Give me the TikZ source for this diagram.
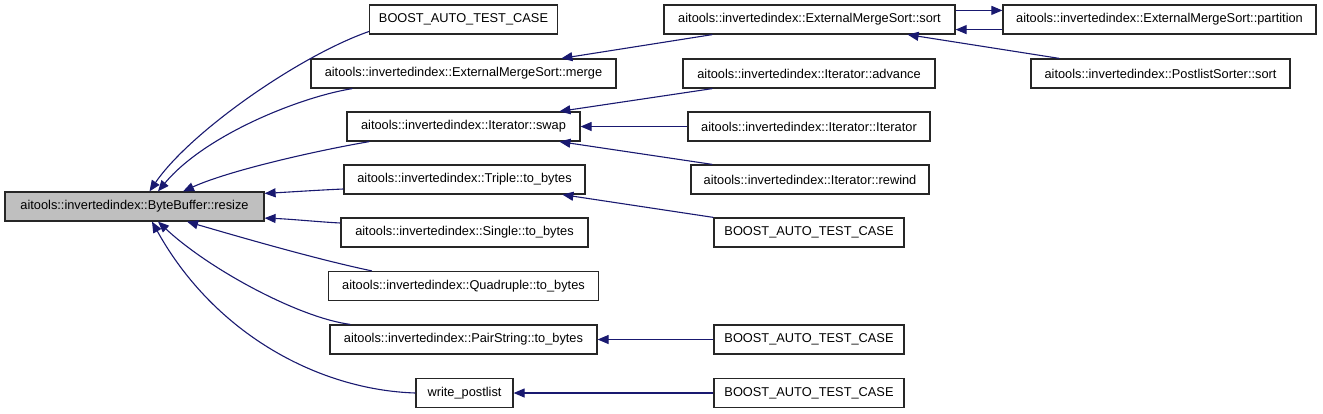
\documentclass[tikz,border=0pt]{standalone}
\usepackage{fontspec}
\setmainfont{Liberation Sans}
\usetikzlibrary{arrows.meta}
\definecolor{edgeblue}{HTML}{191970}
\definecolor{hilite}{HTML}{BFBFBF}
\begin{document}
\begin{tikzpicture}[x=1pt,y=-1pt,
  box/.style={draw=black!85, line width=1.2pt, fill=white, minimum height=29pt, inner sep=0pt,
    font=\fontsize{12.8}{15}\selectfont},
  edge/.style={draw=edgeblue, line width=1.1pt, {Triangle[length=11pt,width=9pt]}-}]
\useasboundingbox (0,0) rectangle (1323,413);
% column 0
\node[box, fill=hilite, minimum width=259pt] (resize) at (134.5,206.5) {aitools::invertedindex::ByteBuffer::resize};
% column 1
\node[box, minimum width=188pt] (b1) at (463.5,19.5) {BOOST\_AUTO\_TEST\_CASE};
\node[box, minimum width=305pt] (merge) at (463.5,73.5) {aitools::invertedindex::ExternalMergeSort::merge};
\node[box, minimum width=233pt] (swap) at (463.5,126.5) {aitools::invertedindex::Iterator::swap};
\node[box, minimum width=241pt] (triple) at (464.5,179.5) {aitools::invertedindex::Triple::to\_bytes};
\node[box, minimum width=247pt] (single) at (464.5,232.5) {aitools::invertedindex::Single::to\_bytes};
\node[box, minimum width=270pt] (quad) at (463.5,286) {aitools::invertedindex::Quadruple::to\_bytes};
\node[box, minimum width=267pt] (pair) at (463.5,339.5) {aitools::invertedindex::PairString::to\_bytes};
\node[box, minimum width=97pt] (wp) at (464.5,393) {write\_postlist};
% column 2
\node[box, minimum width=291pt] (ems) at (809.5,19.5) {aitools::invertedindex::ExternalMergeSort::sort};
\node[box, minimum width=252pt] (adv) at (809,73.5) {aitools::invertedindex::Iterator::advance};
\node[box, minimum width=242pt] (iter) at (809,126.5) {aitools::invertedindex::Iterator::Iterator};
\node[box, minimum width=238pt] (rew) at (810,179.5) {aitools::invertedindex::Iterator::rewind};
\node[box, minimum width=190pt] (b2) at (809,232.5) {BOOST\_AUTO\_TEST\_CASE};
\node[box, minimum width=190pt] (b3) at (809,339.5) {BOOST\_AUTO\_TEST\_CASE};
\node[box, minimum width=190pt] (b4) at (809,393) {BOOST\_AUTO\_TEST\_CASE};
% column 3
\node[box, minimum width=313pt] (part) at (1159.5,19.5) {aitools::invertedindex::ExternalMergeSort::partition};
\node[box, minimum width=259pt] (pls) at (1160.5,73.5) {aitools::invertedindex::PostlistSorter::sort};
% edges into resize
\draw[edge] ([xshift=15pt]resize.north) .. controls (190,132) and (299,56) .. ([yshift=-12pt]b1.west);
\draw[edge] ([xshift=23.5pt]resize.north) .. controls (205,135) and (300,97) .. ([xshift=42pt]merge.south west);
\draw[edge] ([xshift=48.5pt]resize.north) .. controls (230,170) and (320,150) .. ([xshift=23pt]swap.south west);
\draw[edge] ([yshift=-2pt]resize.north east) .. controls (290,192) and (320,190) .. ([yshift=-9.5pt]triple.west);
\draw[edge] ([yshift=3.5pt]resize.south east) .. controls (290,219) and (320,222) .. ([yshift=9.5pt]single.west);
\draw[edge] ([xshift=52.5pt]resize.south) .. controls (250,240) and (320,260) .. ([xshift=44pt]quad.north west);
\draw[edge] ([xshift=23.5pt]resize.south) .. controls (210,270) and (300,318) .. ([xshift=21pt]pair.north west);
\draw[edge] ([xshift=17.5pt]resize.south) .. controls (215,335) and (320,390) .. (wp.west);
% second level
\draw[edge] ([xshift=251pt]merge.north west) -- ([xshift=49pt]ems.south west);
\draw[edge] ([xshift=213pt]swap.north west) -- ([xshift=30pt]adv.south west);
\draw[edge] (swap.east) -- (iter.west);
\draw[edge] ([xshift=213pt]swap.south west) -- ([xshift=22pt]rew.north west);
\draw[edge] ([xshift=219pt]triple.south west) -- (b2.north west);
\draw[edge] (pair.east) -- (b3.west);
\draw[edge] (wp.east) -- (b4.west);
% third level
\draw[edge] ([yshift=-6pt]part.north west) -- ([yshift=-6pt]ems.north east);
\draw[edge] ([yshift=5pt]ems.south east) -- ([yshift=5pt]part.south west);
\draw[edge] ([xshift=-48pt]ems.south east) -- ([xshift=29pt]pls.north west);
\end{tikzpicture}
\end{document}
